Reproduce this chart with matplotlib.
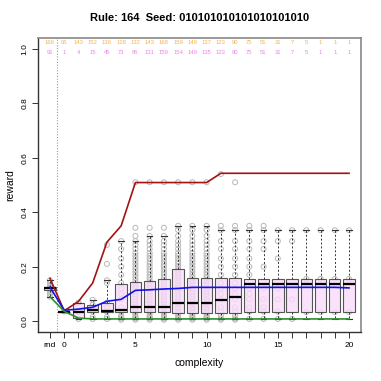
import numpy as np
import matplotlib
matplotlib.use("Agg")
import matplotlib.pyplot as plt

# ==========================================
# DATA
# ==========================================

positions = list(range(-1, 21))          # -1 is the "rnd" column
tick_labels = {-1: "rnd", 0: "0", 5: "5", 10: "10", 15: "15", 20: "20"}

count_top = [166, 65, 143, 152, 136, 128, 132, 143, 168, 159, 149,
             137, 123, 90, 75, 51, 31, 7, 5, 1, 1, 1]
count_low = [91, 1, 4, 15, 45, 73, 95, 131, 159, 154, 149,
             135, 123, 90, 75, 51, 31, 7, 5, 1, 1, 1]

# box statistics per column
q1 = [0.113, 0.035, 0.011, 0.033, 0.033, 0.033, 0.032, 0.032, 0.032, 0.030, 0.030,
      0.030, 0.030, 0.030, 0.033, 0.033, 0.033, 0.033, 0.033, 0.033, 0.033, 0.033]
med = [0.120, 0.035, 0.035, 0.041, 0.038, 0.040, 0.051, 0.051, 0.051, 0.068, 0.068,
       0.068, 0.079, 0.088, 0.137, 0.137, 0.137, 0.137, 0.137, 0.137, 0.137, 0.137]
q3 = [0.125, 0.035, 0.068, 0.060, 0.068, 0.137, 0.145, 0.149, 0.155, 0.190, 0.160,
      0.160, 0.157, 0.160, 0.155, 0.155, 0.155, 0.155, 0.155, 0.155, 0.155, 0.155]
whis_lo = [0.090, 0.035, 0.008, 0.008, 0.008, 0.008, 0.008, 0.008, 0.008, 0.008, 0.008,
           0.008, 0.008, 0.008, 0.008, 0.008, 0.008, 0.008, 0.008, 0.008, 0.008, 0.008]
whis_hi = [0.150, 0.035, 0.068, 0.078, 0.150, 0.294, 0.294, 0.313, 0.313, 0.350, 0.350,
           0.350, 0.334, 0.334, 0.334, 0.334, 0.334, 0.334, 0.334, 0.334, 0.334, 0.334]

# raw reward values shown as grey circles
dense = [0.005, 0.010, 0.015, 0.020, 0.030, 0.035, 0.045, 0.050, 0.060, 0.070,
         0.080, 0.090, 0.100, 0.110, 0.120, 0.130, 0.140, 0.150, 0.160, 0.170,
         0.180, 0.190, 0.200, 0.210, 0.220, 0.230, 0.240, 0.250, 0.265, 0.280,
         0.294, 0.313]
points = [
    [0.09, 0.10, 0.11, 0.115, 0.12, 0.125, 0.13, 0.14, 0.15],
    [0.035],
    [0.008, 0.035, 0.068],
    [0.008, 0.015, 0.035, 0.05, 0.06, 0.078],
    [0.008, 0.015, 0.035, 0.05, 0.068, 0.14, 0.15, 0.21, 0.28],
    [0.005, 0.010, 0.015, 0.020, 0.035, 0.05, 0.08, 0.10, 0.12, 0.14, 0.17, 0.20,
     0.23, 0.265, 0.294],
    dense + [0.343, 0.51],
    dense + [0.343, 0.51],
    dense + [0.343, 0.51],
    dense + [0.335, 0.35, 0.51],
    dense + [0.335, 0.35, 0.51],
    dense + [0.335, 0.35, 0.51],
    [0.005, 0.010, 0.020, 0.035, 0.05, 0.08, 0.10, 0.12, 0.14, 0.17, 0.20, 0.23,
     0.265, 0.294, 0.334, 0.35, 0.54],
    [0.005, 0.010, 0.020, 0.035, 0.05, 0.08, 0.10, 0.12, 0.14, 0.17, 0.20, 0.23,
     0.265, 0.294, 0.334, 0.35, 0.51],
    [0.008, 0.035, 0.05, 0.08, 0.10, 0.12, 0.17, 0.20, 0.23, 0.265, 0.294, 0.334, 0.35],
    [0.008, 0.035, 0.05, 0.08, 0.12, 0.20, 0.265, 0.294, 0.334, 0.35],
    [0.008, 0.035, 0.08, 0.12, 0.23, 0.294, 0.334],
    [0.008, 0.08, 0.294, 0.334],
    [0.033, 0.137, 0.155, 0.334],
    [0.033, 0.155, 0.334],
    [0.033, 0.155, 0.334],
    [0.033, 0.155, 0.334],
]

max_reward = [0.157, 0.038, 0.072, 0.140, 0.290, 0.350, 0.509, 0.509, 0.509, 0.509,
              0.509, 0.509, 0.543, 0.543, 0.543, 0.543, 0.543, 0.543, 0.543, 0.543,
              0.543, 0.543]
mean_reward = [0.125, 0.040, 0.044, 0.051, 0.073, 0.080, 0.113, 0.115, 0.118, 0.120,
               0.124, 0.124, 0.124, 0.124, 0.124, 0.124, 0.124, 0.124, 0.124, 0.124,
               0.124, 0.122]
min_reward = [0.090, 0.036, 0.011, 0.008, 0.008, 0.008, 0.008, 0.008, 0.008, 0.008,
              0.008, 0.008, 0.008, 0.008, 0.008, 0.008, 0.008, 0.008, 0.008, 0.008,
              0.008, 0.008]

title = "Rule: 164  Seed: 010101010101010101010"

# ==========================================
# FIGURE
# ==========================================

plt.rcParams["font.family"] = ["Liberation Sans", "DejaVu Sans"]

fig = plt.figure(figsize=(3.81, 3.81), dpi=100)
ax = fig.add_axes([0.0997, 0.1286, 0.8478, 0.7717])

for x, vals in zip(positions, points):
    ax.scatter(
        [x] * len(vals), vals,
        s=13, facecolors="none", edgecolors="#b8b8b8",
        linewidths=0.7, zorder=2
    )

stats = []
for i in range(len(positions)):
    stats.append({
        "med": med[i], "q1": q1[i], "q3": q3[i],
        "whislo": whis_lo[i], "whishi": whis_hi[i],
    })

bp = ax.bxp(
    stats,
    positions=positions,
    widths=0.8,
    showfliers=False,
    patch_artist=True,
    boxprops=dict(facecolor=(0.98, 0.86, 0.98, 0.8), edgecolor="#555555",
                  linewidth=0.8),
    medianprops=dict(color="black", linewidth=1.6),
    whiskerprops=dict(color="#333333", linewidth=0.7, linestyle=(0, (2, 2))),
    capprops=dict(color="#333333", linewidth=0.8),
    capwidths=0.4,
    zorder=3,
)
for m in bp["medians"]:
    m.set_zorder(3.5)

ax.plot(positions, max_reward, color="#a01414", linewidth=1.2, zorder=4)
ax.plot(positions, mean_reward, color="#1010f0", linewidth=1.2, zorder=4)
ax.plot(positions, min_reward, color="#2e8b2e", linewidth=1.2, zorder=4)

ax.axvline(-0.5, color="#999999", linestyle=(0, (1, 1.5)), linewidth=0.8, zorder=1)

for x, ct, cl in zip(positions, count_top, count_low):
    ax.text(x, 1.022, str(ct), color="#f7b24a", fontsize=4.2,
            ha="center", va="center")
    ax.text(x, 0.985, str(cl), color="#ee82ee", fontsize=4.2,
            ha="center", va="center")

ax.set_xlim(-1.84, 20.84)
ax.set_ylim(-0.04, 1.04)

ax.set_xticks(positions)
ax.set_xticklabels([tick_labels.get(p, "") for p in positions], fontsize=6)
ax.set_yticks([0.0, 0.2, 0.4, 0.6, 0.8, 1.0])
ax.set_yticklabels(["0.0", "0.2", "0.4", "0.6", "0.8", "1.0"],
                   fontsize=6, rotation=90, va="center")
ax.tick_params(length=4, width=0.7, color="#333333", pad=3)

for side in ["top", "right"]:
    ax.spines[side].set_color("#888888")
    ax.spines[side].set_linewidth(1.2)
for side in ["left", "bottom"]:
    ax.spines[side].set_color("#333333")
    ax.spines[side].set_linewidth(1.0)

ax.set_xlabel("complexity", fontsize=7.5, labelpad=7)
ax.set_ylabel("reward", fontsize=7.5, labelpad=4)
ax.set_title(title, fontsize=8, fontweight="bold", pad=12)

fig.savefig("out.png", dpi=100)
